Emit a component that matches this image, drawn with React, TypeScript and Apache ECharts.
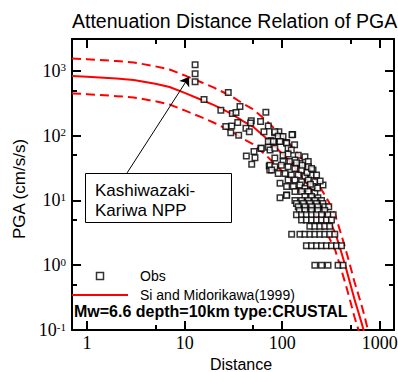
import React, { useEffect, useRef } from 'react';
import * as echarts from 'echarts';

const chartTitle = 'Attenuation Distance Relation of PGA';
const xName = 'Distance';
const yName = 'PGA (cm/s/s)';
const obsName = 'Obs';
const modelName = 'Si and Midorikawa(1999)';
const caseText = 'Mw=6.6 depth=10km type:CRUSTAL';
const siteLines = ['Kashiwazaki-', 'Kariwa NPP'];

const xMin = 0.7;
const xMax = 1400;
const yMin = 0.1;
const yMax = 3100;
const xMajorTicks = [1, 10, 100, 1000];
const xMinorTicks = [5, 50, 500];
const yMajorTicks = [0.1, 1, 10, 100, 1000];
const yMinorTicks = [0.5, 5, 50, 500];

// attenuation curve (median and +/- one sigma)
const curveDistance = [0.7, 1, 2, 3, 5, 7, 10, 15, 20, 30, 40, 50, 70, 100, 120, 150, 200, 250, 300, 350, 400, 450, 500, 550, 600, 650, 700, 750, 800];
const curveMedian = [832, 813, 759, 724, 631, 562, 457, 355, 295, 219, 166, 138, 89, 52.5, 39.8, 26.3, 14.5, 8.1, 5.1, 3.16, 1.66, 0.91, 0.51, 0.3, 0.195, 0.13, 0.087, 0.056, 0.037];
const curveUpper = [1549, 1514, 1413, 1349, 1175, 1047, 851, 661, 550, 407, 309, 257, 166, 97.7, 74.1, 49, 26.9, 15.1, 9.55, 5.89, 3.09, 1.7, 0.955, 0.556, 0.363, 0.243, 0.162, 0.105, 0.069];
const curveLower = [447, 437, 407, 389, 339, 302, 245, 191, 158, 117, 89.1, 74.1, 47.9, 28.2, 21.4, 14.1, 7.76, 4.37, 2.75, 1.7, 0.89, 0.49, 0.275, 0.16, 0.105, 0.07, 0.047, 0.03, 0.02];

// observed records
const obsDistance = [
  12.8, 12.8, 12.8,
  28, 15.8, 36.9, 23.5, 30.8, 33.6, 68, 26.4, 30.4, 35, 48.2, 60, 47.5, 42.5, 46, 29.7, 35.8,
  72, 65, 83.6, 92.5, 128, 97, 76.6, 92.5, 111, 134, 60.5, 72, 51.4, 42.9, 52.6, 48.7, 73.6, 74.6,
  84, 91, 102, 126, 72, 81, 95, 111, 61, 75, 84, 115, 124, 102, 115, 146, 171, 84, 102, 120, 135,
  152, 185, 75, 84, 98, 115, 135, 158, 185, 207, 78, 91, 107, 124, 146, 171, 200, 225, 115, 135,
  158, 185, 216, 95, 111, 130, 152, 171, 207, 262, 135, 158, 185, 216, 111, 95, 171, 200, 232,
  111, 230, 195, 245, 180, 160, 140, 200,
  135, 158, 185, 216, 253,
  140, 165, 192, 225, 262,
  146, 171, 200, 232, 273, 300,
  150, 171, 200, 232, 273,
  140, 158, 177, 200, 225, 253, 295, 333,
  158, 177, 200, 225, 253, 284, 320,
  192, 216, 243, 273, 307,
  125, 152, 171, 192, 216, 243, 273, 307, 346,
  177, 200, 225, 253, 284, 320, 360, 405,
  216, 253, 295, 374, 421,
];
const obsPga = [
  1240, 900, 680,
  462, 360, 281, 247, 219, 227, 230, 138, 141, 159, 169, 165, 156, 130, 115, 111, 101,
  141, 115, 111, 115, 104, 97, 84, 81, 78, 72, 64, 66, 57, 48.5, 45.7, 36, 34, 29.5,
  115, 98, 97, 103, 81, 81, 81, 76, 64, 60, 64, 64, 60, 50, 52, 50, 47, 45, 40, 40, 42,
  37, 40, 35, 33, 35, 33, 31, 29.5, 33, 29.5, 29.5, 26, 26, 24.7, 24.7, 23.3, 24.7, 24.7, 20.7, 20.7,
  19.5, 20.7, 19.5, 18.4, 16.4, 16.4, 17.3, 15.3, 16.4, 17.3, 13.7, 13.7, 13.7, 13, 12.1, 11, 11.5, 11.5, 11,
  12, 15.5, 17.8, 20, 27, 35, 38, 31,
  10, 10, 10, 10, 10,
  9, 9, 9, 9, 9,
  8, 8, 8, 8, 8, 8,
  7, 7, 7, 7, 7,
  6, 6, 6, 6, 6, 6, 6, 6,
  5, 5, 5, 5, 5, 5, 5,
  4, 4, 4, 4, 4,
  3, 3, 3, 3, 3, 3, 3, 3, 3,
  2, 2, 2, 2, 2, 2, 2, 2,
  1, 1, 1, 1, 1,
];

// annotation arrow (from box to the site records)
const arrowFrom = [2.57, 26.6];
const arrowTo = [11.1, 809];

const SANS = '"Liberation Sans", Arial, "Noto Sans", sans-serif';
const SERIF = '"Liberation Serif", "Times New Roman", "DejaVu Serif", serif';

function pairs(xs: number[], ys: number[]) {
  return xs.map((x, i) => [x, ys[i]]);
}

function tickAxis(kind: 'x' | 'y', position: string, ticks: number[], len: number, withLine: boolean) {
  return {
    type: 'log',
    position,
    min: kind === 'x' ? xMin : yMin,
    max: kind === 'x' ? xMax : yMax,
    gridIndex: 0,
    splitLine: { show: false },
    minorTick: { show: false },
    axisLine: { show: withLine, onZero: false, lineStyle: { color: '#000', width: 2 } },
    axisTick: { show: true, inside: true, length: len, customValues: ticks, lineStyle: { color: '#000', width: 2 } },
    axisLabel: { show: false },
    silent: true,
  };
}

export default function App() {
  const ref = useRef<HTMLDivElement>(null);
  useEffect(() => {
    const chart = echarts.init(ref.current!, null, { renderer: 'svg' });
    const xMain: any = tickAxis('x', 'bottom', xMajorTicks, 9, true);
    xMain.axisLabel = {
      show: true,
      customValues: xMajorTicks,
      margin: 4,
      formatter: (v: number) => String(Math.round(v)),
      fontSize: 18,
      fontFamily: SERIF,
      color: '#000',
    };
    xMain.name = xName;
    xMain.nameLocation = 'middle';
    xMain.nameGap = 24;
    xMain.nameTextStyle = { fontSize: 16, fontFamily: SANS, color: '#000', padding: [0, 0, 0, 16] };

    const yMain: any = tickAxis('y', 'left', yMajorTicks, 9, true);
    yMain.axisLabel = {
      show: true,
      customValues: yMajorTicks,
      margin: 6,
      formatter: (v: number) => `{b|10}{s|${Math.round(Math.log10(v))}}`,
      rich: {
        b: { fontSize: 18, fontFamily: SERIF, color: '#000', lineHeight: 18 },
        s: { fontSize: 11, fontFamily: SERIF, color: '#000', lineHeight: 11, verticalAlign: 'top' },
      },
    };
    yMain.name = yName;
    yMain.nameLocation = 'middle';
    yMain.nameGap = 44;
    yMain.nameRotate = 90;
    yMain.nameTextStyle = { fontSize: 17, fontFamily: SANS, color: '#000', padding: [0, 9, 0, 0] };

    const option: any = {
      animation: false,
      backgroundColor: '#fff',
      textStyle: { fontFamily: SANS },
      title: {
        text: chartTitle,
        left: 67,
        top: 6,
        textStyle: { fontSize: 19.5, fontWeight: 'normal', fontFamily: SANS, color: '#000' },
      },
      grid: { left: 72, right: 4, top: 39, bottom: 42, containLabel: false, outerBoundsMode: 'none' },
      xAxis: [
        xMain,
        tickAxis('x', 'bottom', xMinorTicks, 5, false),
        tickAxis('x', 'top', xMajorTicks, 9, true),
        tickAxis('x', 'top', xMinorTicks, 5, false),
      ],
      yAxis: [
        yMain,
        tickAxis('y', 'left', yMinorTicks, 5, false),
        tickAxis('y', 'right', yMajorTicks, 9, true),
        tickAxis('y', 'right', yMinorTicks, 5, false),
      ],
      legend: {
        orient: 'vertical',
        left: 72,
        top: 269,
        padding: 0,
        itemWidth: 56,
        itemHeight: 7,
        itemGap: 5,
        selectedMode: false,
        data: [
          { name: obsName, icon: 'path://M0,0H10V10H0Z', itemStyle: { color: '#fff', borderColor: '#000', borderWidth: 1.5 } },
          { name: modelName, icon: 'path://M0,0H56V2H0Z', itemStyle: { color: '#ff0000', borderWidth: 0 } },
        ],
        textStyle: { fontSize: 14, fontFamily: SANS, color: '#000', padding: [0, 0, 0, 7] },
      },
      series: [
        {
          name: 'upper',
          type: 'line',
          data: pairs(curveDistance, curveUpper),
          symbol: 'none',
          clip: true,
          silent: true,
          lineStyle: { color: '#ff0000', width: 2, type: [9, 5] },
          z: 2,
        },
        {
          name: 'lower',
          type: 'line',
          data: pairs(curveDistance, curveLower),
          symbol: 'none',
          clip: true,
          silent: true,
          lineStyle: { color: '#ff0000', width: 2, type: [9, 5] },
          z: 2,
        },
        {
          name: modelName,
          type: 'line',
          data: pairs(curveDistance, curveMedian),
          symbol: 'none',
          clip: true,
          silent: true,
          itemStyle: { color: '#ff0000' },
          lineStyle: { color: '#ff0000', width: 2 },
          z: 2,
        },
        {
          name: obsName,
          type: 'scatter',
          data: pairs(obsDistance, obsPga),
          symbol: 'rect',
          symbolSize: 5.5,
          silent: true,
          itemStyle: { color: '#fff', borderColor: '#000', borderWidth: 1.5 },
          z: 3,
          markLine: {
            silent: true,
            symbol: ['none', 'arrow'],
            symbolSize: 9,
            label: { show: false },
            lineStyle: { color: '#000', width: 1, type: 'solid' },
            data: [[{ coord: arrowFrom }, { coord: arrowTo }]],
          },
        },
      ],
      graphic: [
        {
          type: 'rect',
          z: 100,
          shape: { x: 85.5, y: 173.5, width: 146, height: 49 },
          style: { fill: '#fff', stroke: '#000', lineWidth: 1 },
        },
        {
          type: 'text',
          z: 101,
          x: 95,
          y: 190,
          style: { text: siteLines[0], fontSize: 17, fontFamily: SANS, fill: '#000', verticalAlign: 'middle' },
        },
        {
          type: 'text',
          z: 101,
          x: 95,
          y: 210,
          style: { text: siteLines[1], fontSize: 17, fontFamily: SANS, fill: '#000', verticalAlign: 'middle' },
        },
        {
          type: 'text',
          z: 101,
          x: 74,
          y: 311,
          style: { text: caseText, fontSize: 16, fontWeight: 'bold', fontFamily: SANS, fill: '#000', verticalAlign: 'middle' },
        },
      ],
    };
    chart.setOption(option);
    return () => chart.dispose();
  }, []);
  return (
    <div
      ref={ref}
      style={{ position: 'fixed', left: 0, top: 0, width: 398, height: 372, background: '#fff' }}
    />
  );
}
